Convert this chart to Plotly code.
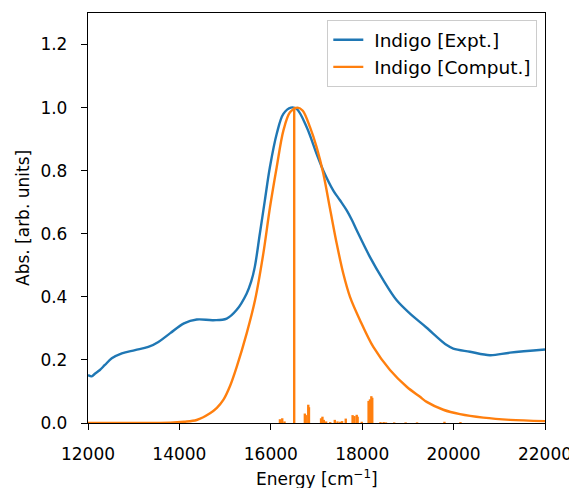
import plotly.graph_objects as go

# Experimental spectrum (energy in cm^-1, normalized absorbance)
expt_energy = [12000, 12080, 12150, 12260, 12370, 12520, 12740, 13030, 13320, 13540,
               13800, 14100, 14380, 14740, 15035, 15250, 15470, 15570, 15650, 15760,
               15870, 15980, 16130, 16275, 16440, 16566, 16786, 17004, 17150, 17368,
               17510, 17661, 17780, 17880, 18171, 18462, 18755, 19046, 19265, 19411,
               19849, 19993, 20359, 20796, 21234, 22000]
expt_abs = [0.152, 0.148, 0.156, 0.168, 0.184, 0.205, 0.221, 0.231, 0.241, 0.257,
            0.285, 0.316, 0.328, 0.326, 0.331, 0.358, 0.410, 0.448, 0.495, 0.600,
            0.706, 0.811, 0.917, 0.980, 1.000, 0.996, 0.938, 0.853, 0.800, 0.737,
            0.707, 0.674, 0.642, 0.611, 0.526, 0.453, 0.389, 0.347, 0.320, 0.302,
            0.247, 0.236, 0.226, 0.215, 0.223, 0.233]

# Computed (broadened) spectrum
comp_energy = [12000, 13000, 13800, 14100, 14378, 14670, 14820, 14961, 15110, 15254,
               15472, 15654, 15836, 15982, 16129, 16275, 16420, 16590, 16700, 16858,
               17004, 17150, 17295, 17442, 17586, 17733, 17952, 18243, 18608, 18974,
               19265, 19411, 19775, 20140, 20650, 21234, 22000]
comp_abs = [0.0, 0.0, 0.001, 0.004, 0.0095, 0.031, 0.048, 0.073, 0.118, 0.178,
            0.284, 0.389, 0.537, 0.684, 0.811, 0.927, 0.985, 1.000, 0.990, 0.938,
            0.874, 0.790, 0.680, 0.569, 0.474, 0.400, 0.326, 0.241, 0.168, 0.115,
            0.083, 0.067, 0.042, 0.028, 0.017, 0.010, 0.006]

# Computed stick transitions
stick_energy = [16200, 16250, 16300, 16512, 16745, 16765, 16820, 16835, 17100, 17130,
                17160, 17210, 17300, 17400, 17460, 17520, 17560, 17640, 17790, 17830,
                17880, 17900, 17990, 18140, 18170, 18200, 18220, 18400, 18470, 18520,
                18700, 18950, 19200, 19800, 20150]
stick_height = [0.012, 0.015, 0.005, 1.0, 0.030, 0.025, 0.058, 0.050, 0.015, 0.020,
                0.010, 0.005, 0.003, 0.010, 0.005, 0.004, 0.006, 0.014, 0.025, 0.022,
                0.026, 0.020, 0.004, 0.070, 0.075, 0.085, 0.080, 0.003, 0.003, 0.002,
                0.002, 0.002, 0.002, 0.004, 0.003]

x_ticks = [12000, 14000, 16000, 18000, 20000, 22000]
y_ticks = [0.0, 0.2, 0.4, 0.6, 0.8, 1.0, 1.2]
x_title = "Energy [cm<sup>−1</sup>]"
y_title = "Abs. [arb. units]"

BLUE = "#1f77b4"
ORANGE = "#ff7f0e"
FONT = "DejaVu Sans"
NB = "\u00a0"

sx, sy = [], []
for e, h in zip(stick_energy, stick_height):
    sx += [e, e, None]
    sy += [0, h, None]

fig = go.Figure()
fig.add_trace(go.Scatter(x=expt_energy, y=expt_abs, mode="lines",
                         name=NB + "Indigo [Expt.]",
                         line=dict(color=BLUE, width=2.4, shape="spline", smoothing=1.0)))
fig.add_trace(go.Scatter(x=comp_energy, y=comp_abs, mode="lines",
                         name=NB + "Indigo [Comput.]",
                         line=dict(color=ORANGE, width=2.4, shape="spline", smoothing=0.9)))
fig.add_trace(go.Scatter(x=sx, y=sy, mode="lines", showlegend=False,
                         line=dict(color=ORANGE, width=2.4), connectgaps=False))

axis_common = dict(showline=True, mirror=True, linecolor="black", linewidth=1.3,
                   ticks="outside", ticklen=6, tickwidth=1.3, tickcolor="black",
                   showgrid=False, zeroline=False, automargin=False,
                   tickfont=dict(family=FONT, size=17, color="black"))

# page body adds an 8px offset, so the figure is sized to land the axes where they belong
fig.update_layout(
    width=569, height=480,
    margin=dict(l=80, r=32, t=5, b=65),
    paper_bgcolor="white", plot_bgcolor="white",
    font=dict(family=FONT, size=17, color="black"),
    xaxis=dict(range=[12000, 22000], tickvals=x_ticks,
               ticktext=[str(v) for v in x_ticks], ticklabelstandoff=9,
               **axis_common),
    yaxis=dict(range=[0, 1.3], tickvals=y_ticks,
               ticktext=[f"{v:.1f}" for v in y_ticks], ticklabelstandoff=10,
               **axis_common),
    legend=dict(x=0.9825, y=0.983, xanchor="right", yanchor="top",
                bgcolor="rgba(255,255,255,0.8)", bordercolor="#cccccc", borderwidth=1.3,
                font=dict(family=FONT, size=18.5)),
    annotations=[
        dict(text=x_title, xref="paper", yref="paper", x=0.5, y=0,
             xanchor="center", yanchor="bottom", yshift=-68, showarrow=False,
             font=dict(family=FONT, size=17, color="black")),
        dict(text=y_title, xref="paper", yref="paper", x=0, y=0.5,
             xanchor="center", yanchor="middle", xshift=-65, textangle=-90,
             showarrow=False, font=dict(family=FONT, size=17, color="black")),
    ],
)

fig.write_html("out.html")
